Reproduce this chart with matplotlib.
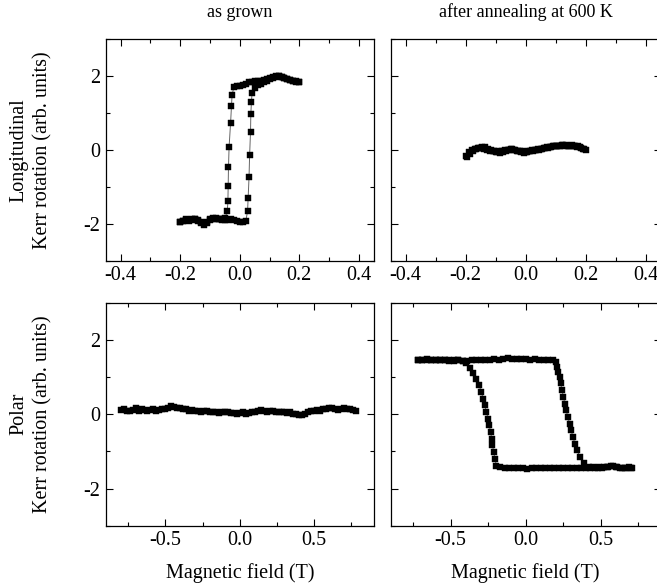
import matplotlib
matplotlib.use("Agg")
import matplotlib.pyplot as plt
from matplotlib.ticker import MultipleLocator, FormatStrFormatter

plt.rcParams['font.family'] = ['Liberation Serif', 'DejaVu Serif']
plt.rcParams['axes.unicode_minus'] = False

# ---- Longitudinal, as grown ----
tl_down_x = [0.20, 0.19, 0.18, 0.17, 0.16, 0.15, 0.14, 0.13, 0.12, 0.11, 0.10, 0.09, 0.08, 0.07, 0.06,
             0.05, 0.04, 0.03, 0.02, 0.01, 0.00, -0.01, -0.02,
             -0.026, -0.028, -0.031, -0.036, -0.038, -0.039, -0.040, -0.042,
             -0.05, -0.06, -0.07, -0.08, -0.09, -0.10, -0.11, -0.12, -0.13, -0.14, -0.15, -0.16,
             -0.17, -0.18, -0.19, -0.20]
tl_down_y = [1.84, 1.85, 1.88, 1.90, 1.92, 1.95, 1.98, 2.00, 2.01, 1.99, 1.96, 1.93, 1.90, 1.88, 1.87,
             1.86, 1.85, 1.83, 1.80, 1.76, 1.74, 1.73, 1.70,
             1.49, 1.18, 0.73, 0.08, -0.46, -0.98, -1.39, -1.66,
             -1.85, -1.90, -1.88, -1.86, -1.84, -1.88, -1.95, -1.99, -1.97, -1.92, -1.88, -1.90,
             -1.92, -1.90, -1.93, -1.96]
tl_up_x = [-0.20, -0.19, -0.18, -0.17, -0.16, -0.15, -0.14, -0.13, -0.12, -0.11, -0.10, -0.09, -0.08,
           -0.07, -0.06, -0.05, -0.04, -0.03, -0.02, -0.01, 0.00, 0.01, 0.02,
           0.026, 0.028, 0.031, 0.033, 0.036, 0.037, 0.039, 0.041,
           0.05, 0.06, 0.07, 0.08, 0.09, 0.10, 0.11, 0.12, 0.13, 0.14, 0.15, 0.16, 0.17, 0.18, 0.19, 0.20]
tl_up_y = [-1.94, -1.92, -1.88, -1.90, -1.87, -1.86, -1.90, -1.96, -2.02, -1.97, -1.90, -1.86, -1.84,
           -1.87, -1.88, -1.90, -1.90, -1.88, -1.90, -1.92, -1.95, -1.96, -1.93,
           -1.66, -1.30, -0.73, -0.13, 0.50, 0.98, 1.29, 1.54,
           1.68, 1.75, 1.80, 1.85, 1.88, 1.92, 1.96, 1.99, 2.00, 1.97, 1.95, 1.92, 1.90, 1.88, 1.86, 1.84]

# ---- Longitudinal, after annealing ----
tr_up_x = [-0.20, -0.19, -0.18, -0.17, -0.16, -0.15, -0.14, -0.13, -0.12, -0.11, -0.10, -0.09, -0.08,
           -0.07, -0.06, -0.05, -0.04, -0.03, -0.02, -0.01, 0.00, 0.01, 0.02, 0.03, 0.04, 0.05, 0.06,
           0.07, 0.08, 0.09, 0.10, 0.11, 0.12, 0.13, 0.14, 0.15, 0.16, 0.17, 0.18, 0.19, 0.20]
tr_up_y = [-0.15, -0.05, 0.00, 0.03, 0.05, 0.06, 0.04, 0.01, -0.02, -0.04, -0.05, -0.04, -0.03,
           -0.01, 0.01, 0.02, 0.00, -0.03, -0.04, -0.04, -0.05, -0.03, -0.01, 0.01, 0.02, 0.04, 0.05,
           0.07, 0.09, 0.10, 0.12, 0.12, 0.13, 0.12, 0.10, 0.11, 0.10, 0.09, 0.07, 0.04, 0.01]
tr_down_x = [0.195, 0.185, 0.175, 0.165, 0.155, 0.145, 0.135, 0.125, 0.115, 0.105, 0.095, 0.085, 0.075,
             0.065, 0.055, 0.045, 0.035, 0.025, 0.015, 0.005, -0.005, -0.015, -0.025, -0.035, -0.045,
             -0.055, -0.065, -0.075, -0.085, -0.095, -0.105, -0.115, -0.125, -0.135, -0.145, -0.155,
             -0.165, -0.175, -0.185, -0.195]
tr_down_y = [0.03, 0.06, 0.10, 0.12, 0.13, 0.11, 0.13, 0.14, 0.12, 0.10, 0.11, 0.08, 0.06,
             0.05, 0.02, 0.00, -0.01, -0.02, -0.04, -0.06, -0.07, -0.05, -0.02, 0.00, 0.03,
             0.00, -0.03, -0.06, -0.07, -0.06, -0.03, 0.00, 0.03, 0.07, 0.09, 0.06,
             0.03, -0.02, -0.10, -0.18]

# ---- Polar, as grown ----
bl_up_x = [-0.80, -0.76, -0.72, -0.68, -0.64, -0.60, -0.56, -0.52, -0.48, -0.44, -0.40, -0.36, -0.32,
           -0.28, -0.24, -0.20, -0.16, -0.12, -0.08, -0.04, 0.00, 0.04, 0.08, 0.12, 0.16, 0.20, 0.24,
           0.28, 0.32, 0.36, 0.40, 0.44, 0.48, 0.52, 0.56, 0.60, 0.64, 0.68, 0.72, 0.76]
bl_up_y = [0.11, 0.10, 0.12, 0.09, 0.11, 0.12, 0.10, 0.14, 0.18, 0.21, 0.17, 0.13, 0.12,
           0.10, 0.08, 0.06, 0.05, 0.07, 0.05, 0.03, 0.04, 0.02, 0.06, 0.08, 0.09, 0.10, 0.07,
           0.06, 0.04, 0.02, -0.03, 0.02, 0.08, 0.12, 0.14, 0.17, 0.15, 0.13, 0.15, 0.11]
bl_down_x = [0.78, 0.74, 0.70, 0.66, 0.62, 0.58, 0.54, 0.50, 0.46, 0.42, 0.38, 0.34, 0.30, 0.26,
             0.22, 0.18, 0.14, 0.10, 0.06, 0.02, -0.02, -0.06, -0.10, -0.14, -0.18, -0.22, -0.26,
             -0.30, -0.34, -0.38, -0.42, -0.46, -0.50, -0.54, -0.58, -0.62, -0.66, -0.70, -0.74, -0.78]
bl_down_y = [0.10, 0.13, 0.16, 0.12, 0.18, 0.15, 0.10, 0.09, 0.05, -0.01, 0.00, 0.05, 0.07, 0.05,
             0.09, 0.07, 0.11, 0.05, 0.03, 0.06, 0.01, 0.04, 0.06, 0.03, 0.07, 0.09, 0.06,
             0.10, 0.09, 0.14, 0.17, 0.23, 0.15, 0.12, 0.14, 0.09, 0.13, 0.16, 0.09, 0.13]

# ---- Polar, after annealing ----
br_up_x = [-0.72, -0.69, -0.66, -0.63, -0.60, -0.57, -0.54, -0.51, -0.48, -0.45, -0.42, -0.39, -0.36,
           -0.33, -0.30, -0.27, -0.24, -0.21, -0.18, -0.15, -0.12, -0.09, -0.06, -0.03, 0.00, 0.03,
           0.06, 0.09, 0.12, 0.15, 0.18,
           0.205, 0.212, 0.218, 0.226, 0.234, 0.243, 0.252, 0.261, 0.270, 0.282, 0.293, 0.304, 0.315,
           0.329, 0.344, 0.362, 0.389, 0.423,
           0.45, 0.48, 0.51, 0.54, 0.57, 0.60, 0.63, 0.66, 0.69, 0.71]
br_up_y = [1.45, 1.47, 1.48, 1.47, 1.46, 1.45, 1.46, 1.45, 1.44, 1.45, 1.43, 1.44, 1.46,
           1.45, 1.46, 1.46, 1.47, 1.48, 1.47, 1.49, 1.51, 1.50, 1.49, 1.48, 1.48, 1.47,
           1.48, 1.47, 1.46, 1.45, 1.45,
           1.40, 1.28, 1.15, 1.00, 0.83, 0.65, 0.47, 0.29, 0.11, -0.07, -0.25, -0.43, -0.61,
           -0.79, -0.97, -1.15, -1.32, -1.41,
           -1.43, -1.44, -1.44, -1.42, -1.40, -1.41, -1.45, -1.44, -1.43, -1.45]
br_down_x = [0.70, 0.67, 0.64, 0.61, 0.58, 0.55, 0.52, 0.49, 0.46, 0.43, 0.40, 0.37, 0.34, 0.31,
             0.28, 0.25, 0.22, 0.19, 0.16, 0.13, 0.10, 0.07, 0.04, 0.01, -0.02, -0.05, -0.08,
             -0.11, -0.14, -0.17,
             -0.194, -0.205, -0.212, -0.221, -0.227, -0.232, -0.243, -0.250, -0.261, -0.272, -0.283,
             -0.295, -0.310, -0.328, -0.350, -0.373, -0.395,
             -0.42, -0.45, -0.48, -0.51, -0.54, -0.57, -0.60, -0.63, -0.66, -0.69, -0.72]
br_down_y = [-1.44, -1.46, -1.45, -1.41, -1.39, -1.41, -1.43, -1.43, -1.44, -1.45, -1.46, -1.45,
             -1.44, -1.44, -1.45, -1.45, -1.44, -1.45, -1.46, -1.46, -1.45, -1.46, -1.46, -1.47,
             -1.46, -1.45, -1.45, -1.44, -1.44, -1.43,
             -1.38, -1.20, -1.02, -0.84, -0.66, -0.48, -0.30, -0.12, 0.06, 0.24, 0.42,
             0.60, 0.78, 0.94, 1.10, 1.24, 1.38,
             1.44, 1.46, 1.45, 1.44, 1.45, 1.46, 1.47, 1.46, 1.47, 1.46, 1.45]

col_titles = ["as grown", "after annealing at 600 K"]
row_labels = ["Longitudinal\nKerr rotation (arb. units)", "Polar\nKerr rotation (arb. units)"]
xlabel = "Magnetic field (T)"

fig = plt.figure(figsize=(6.57, 5.86), dpi=100)
pos = {
    (0, 0): [0.161, 0.555, 0.408, 0.378],
    (0, 1): [0.5945, 0.555, 0.411, 0.378],
    (1, 0): [0.161, 0.103, 0.408, 0.380],
    (1, 1): [0.5945, 0.103, 0.411, 0.380],
}
data = {
    (0, 0): [(tl_down_x, tl_down_y), (tl_up_x, tl_up_y)],
    (0, 1): [(tr_up_x, tr_up_y), (tr_down_x, tr_down_y)],
    (1, 0): [(bl_up_x, bl_up_y), (bl_down_x, bl_down_y)],
    (1, 1): [(br_up_x, br_up_y), (br_down_x, br_down_y)],
}

TICK_FS = 14.5
for (r, c), p in pos.items():
    ax = fig.add_axes(p)
    for xs, ys in data[(r, c)]:
        ax.plot(xs, ys, '-', color='0.4', lw=0.7, zorder=1)
        ax.plot(xs, ys, 's', color='black', ms=4.4, mec='black', mew=0.3, zorder=2)
    ax.set_ylim(-3, 3)
    ax.yaxis.set_major_locator(MultipleLocator(2))
    ax.yaxis.set_minor_locator(MultipleLocator(1))
    if r == 0:
        ax.set_xlim(-0.45, 0.45)
        ax.xaxis.set_major_locator(MultipleLocator(0.2))
        ax.xaxis.set_minor_locator(MultipleLocator(0.1))
        ax.set_title(col_titles[c], fontsize=13, pad=16)
    else:
        ax.set_xlim(-0.9, 0.9)
        ax.xaxis.set_major_locator(MultipleLocator(0.5))
        ax.xaxis.set_minor_locator(MultipleLocator(0.25))
        ax.set_xlabel(xlabel, fontsize=14.5, labelpad=9)
    ax.tick_params(which='both', direction='in', top=True, right=True, width=0.8,
                   labelsize=TICK_FS, pad=4)
    ax.tick_params(which='major', length=5)
    ax.tick_params(which='minor', length=3)
    if c == 1:
        ax.tick_params(labelleft=False)
    for s in ax.spines.values():
        s.set_linewidth(0.9)
    ax.xaxis.set_major_formatter(FormatStrFormatter('%.1f'))
    ax.yaxis.set_major_formatter(FormatStrFormatter('%d'))

for r, lab in enumerate(row_labels):
    y = pos[(r, 0)][1] + pos[(r, 0)][3] / 2
    fig.text(0.047, y, lab, rotation=90, ha='center', va='center', fontsize=14.5,
             multialignment='center', linespacing=1.35)

fig.savefig("out.png", dpi=100)
